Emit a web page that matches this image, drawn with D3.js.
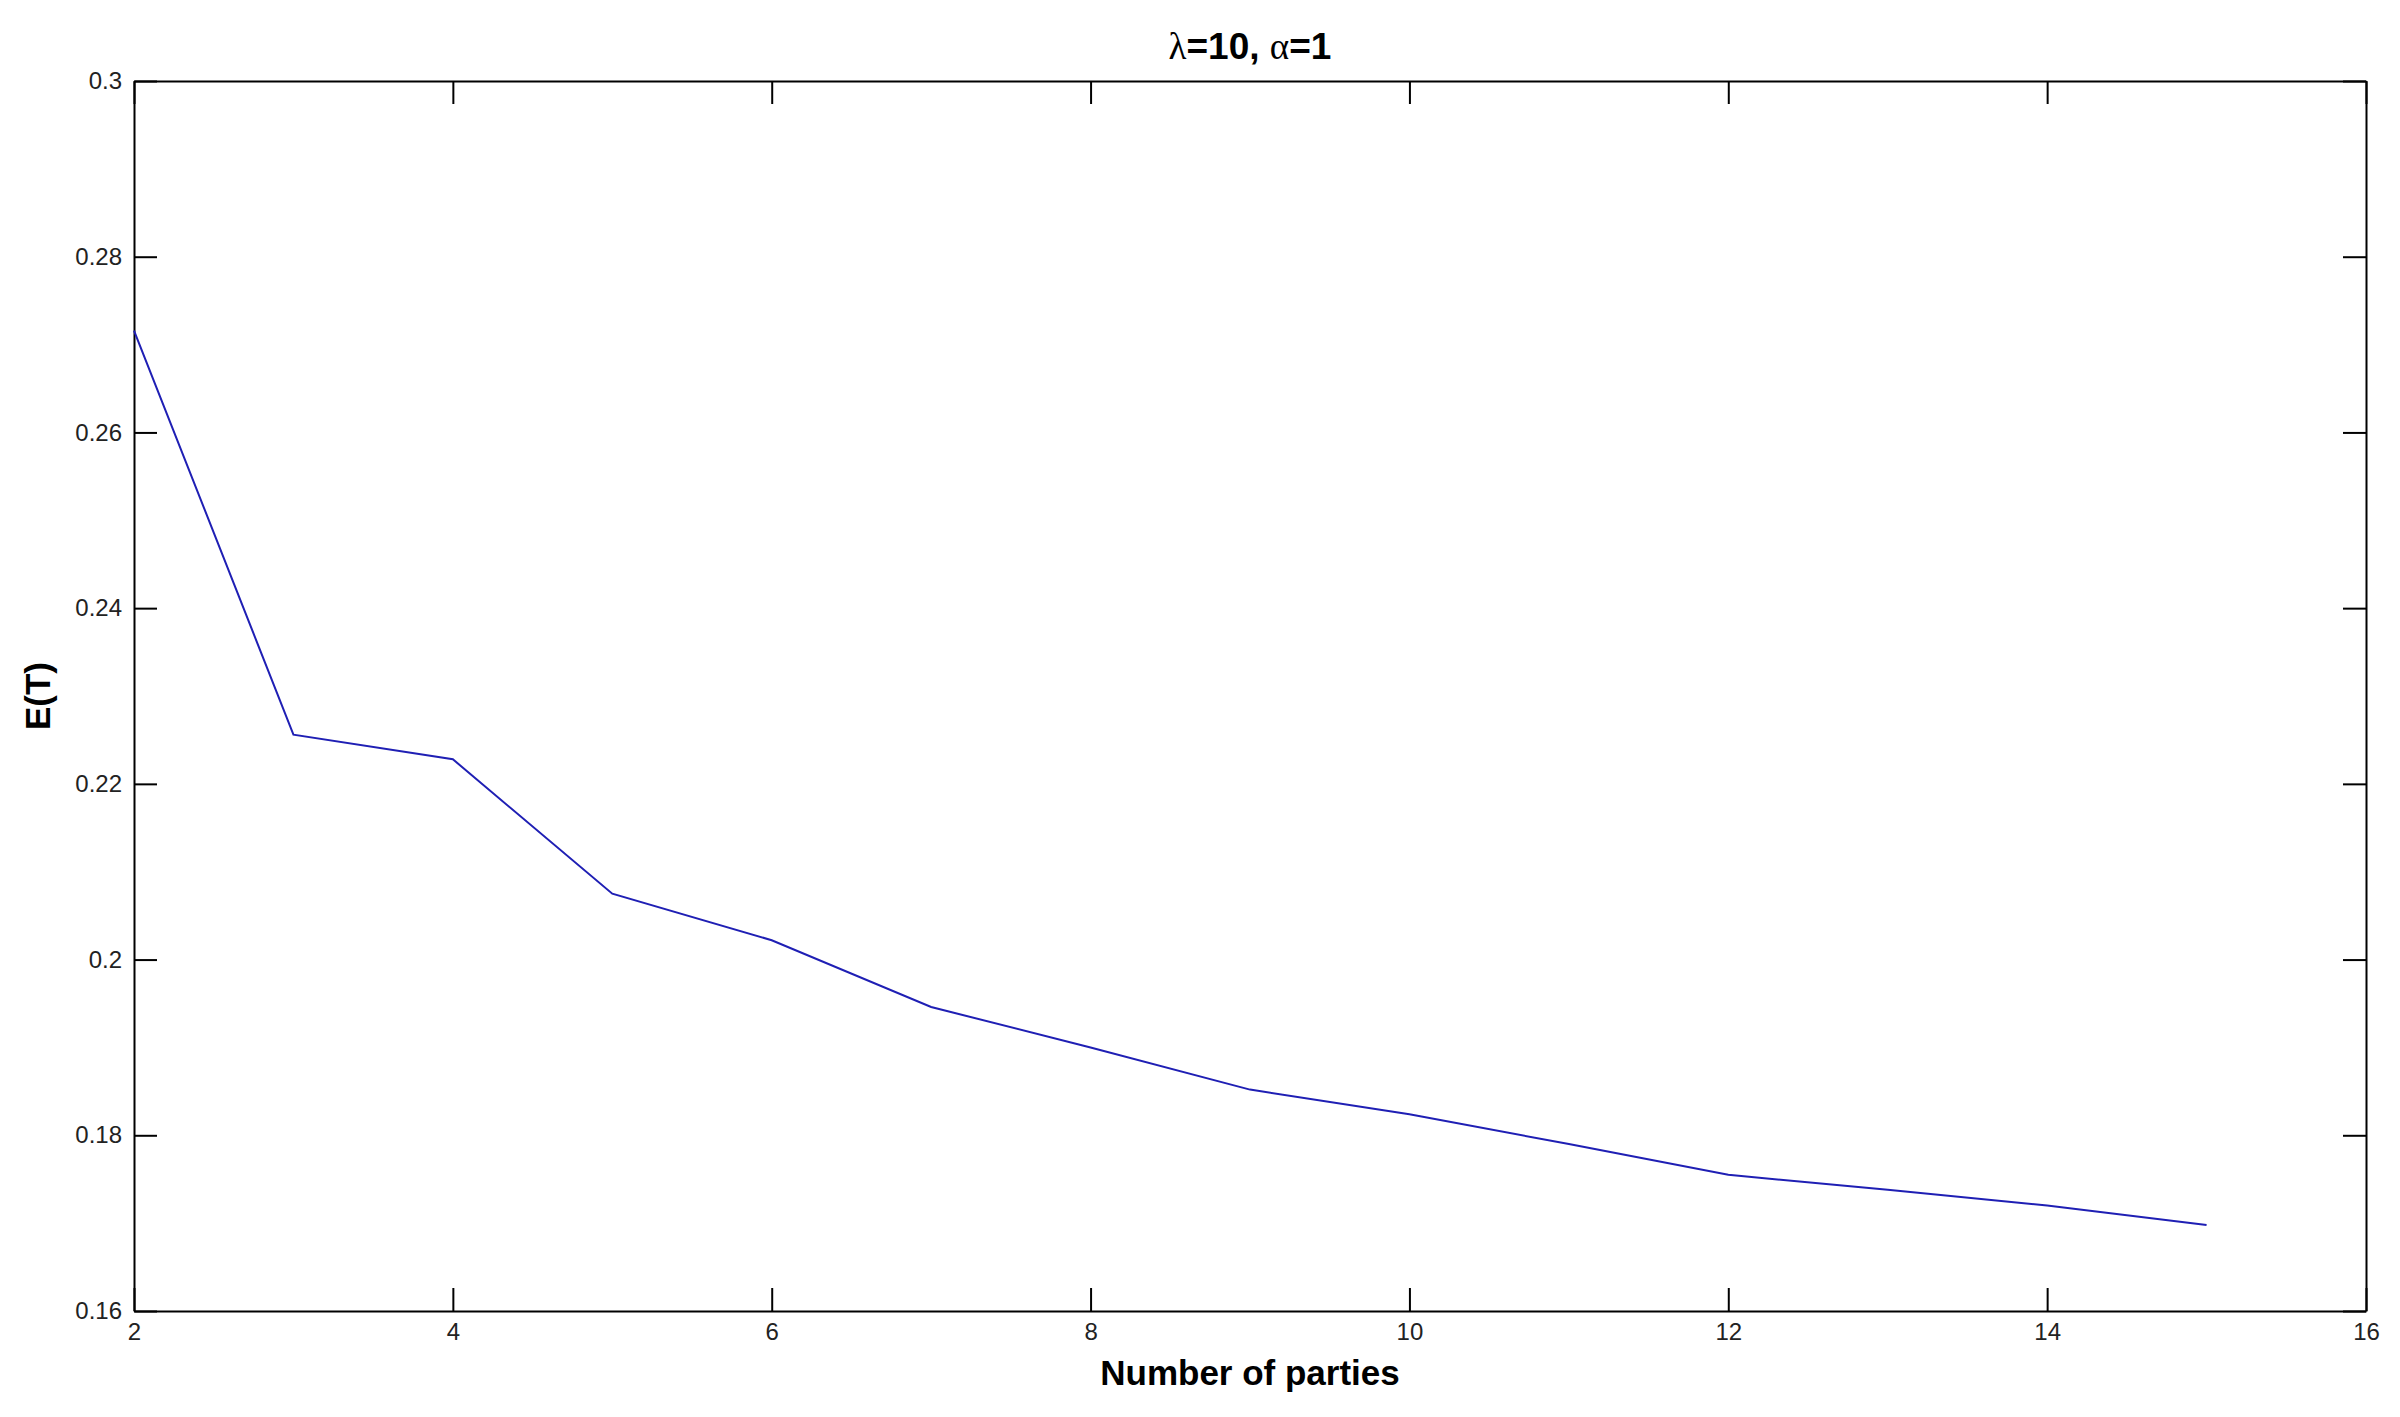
<!DOCTYPE html>
<html>
<head>
<meta charset="utf-8">
<script src="https://cdn.jsdelivr.net/npm/d3@7"></script>
<style>
  html, body { margin: 0; padding: 0; background: #fff; }
  svg { display: block; }
</style>
</head>
<body>
<svg></svg>
<script>
// data
const parties = [2, 3, 4, 5, 6, 7, 8, 9, 10, 11, 12, 13, 14, 15];
const expectedT = [0.2716, 0.2256, 0.2228, 0.2075, 0.2022, 0.1946, 0.1900,
                   0.1852, 0.1824, 0.1790, 0.1755, 0.1738, 0.1720, 0.1698];
const xTicks = [2, 4, 6, 8, 10, 12, 14, 16];
const yTicks = [0.16, 0.18, 0.2, 0.22, 0.24, 0.26, 0.28, 0.3];

const width = 2400, height = 1417;
const margin = { top: 81, right: 34, bottom: 106, left: 134 };

// prettier-ignore
const svg = d3.select("svg")
    .attr("width", width)
    .attr("height", height);

const x = d3.scaleLinear()
    .domain([2, 16])
    .range([margin.left, width - margin.right]);

const y = d3.scaleLinear()
    .domain([0.16, 0.3])
    .range([height - margin.bottom, margin.top]);

const tickLen = 23;
const font = "'Liberation Sans', Arial, sans-serif";

// bottom axis (labels) + top mirror ticks
const xAxis = svg.append("g")
    .attr("transform", `translate(0,${y(0.16)})`)
    .call(d3.axisBottom(x).tickValues(xTicks).tickSizeInner(-tickLen).tickSizeOuter(0).tickPadding(12).tickFormat(d3.format("d")));

const xAxisTop = svg.append("g")
    .attr("transform", `translate(0,${y(0.3)})`)
    .call(d3.axisTop(x).tickValues(xTicks).tickSizeInner(-tickLen).tickSizeOuter(0).tickFormat(""));

const yAxis = svg.append("g")
    .attr("transform", `translate(${x(2)},0)`)
    .call(d3.axisLeft(y).tickValues(yTicks).tickSizeInner(-tickLen).tickSizeOuter(0).tickPadding(12).tickFormat(d => String(+d.toFixed(2))));

const yAxisRight = svg.append("g")
    .attr("transform", `translate(${x(16)},0)`)
    .call(d3.axisRight(y).tickValues(yTicks).tickSizeInner(-tickLen).tickSizeOuter(0).tickFormat(""));

[xAxis, xAxisTop, yAxis, yAxisRight].forEach(g => {
  g.select(".domain").attr("stroke", "#000").attr("stroke-width", 2);
  g.selectAll(".tick line").attr("stroke", "#000").attr("stroke-width", 2);
  g.selectAll(".tick text")
    .attr("fill", "#222")
    .style("font-family", font)
    .style("font-size", "24px");
});

// the data line
const line = d3.line()
    .x((d, i) => x(parties[i]))
    .y(d => y(d));

svg.append("path")
    .datum(expectedT)
    .attr("d", line)
    .attr("fill", "none")
    .attr("stroke", "#1f1fb4")
    .attr("stroke-width", 2);

// title, greek letters in a lighter serif face
const title = svg.append("text")
    .attr("x", (x(2) + x(16)) / 2)
    .attr("y", 59)
    .attr("text-anchor", "middle")
    .style("font-family", font)
    .style("font-size", "37px")
    .style("font-weight", "bold")
    .attr("fill", "#000");
title.append("tspan").style("font-family", "'Liberation Serif', serif").style("font-weight", "normal").text("λ");
title.append("tspan").text("=10, ");
title.append("tspan").style("font-family", "'Liberation Serif', serif").style("font-weight", "normal").text("α");
title.append("tspan").text("=1");

svg.append("text")
    .attr("x", (x(2) + x(16)) / 2)
    .attr("y", 1385)
    .attr("text-anchor", "middle")
    .style("font-family", font)
    .style("font-size", "35px")
    .style("font-weight", "bold")
    .attr("fill", "#000")
    .text("Number of parties");

svg.append("text")
    .attr("transform", `translate(50,${(y(0.16) + y(0.3)) / 2}) rotate(-90)`)
    .attr("text-anchor", "middle")
    .style("font-family", font)
    .style("font-size", "35px")
    .style("font-weight", "bold")
    .attr("fill", "#000")
    .text("E(T)");
</script>
</body>
</html>
